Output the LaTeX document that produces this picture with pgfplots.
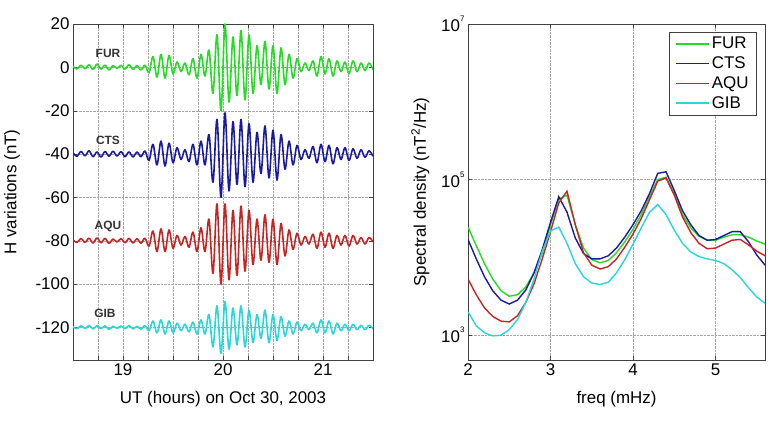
\documentclass[border=0pt]{standalone}
\usepackage{pgfplots}
\pgfplotsset{compat=1.18}
\usepackage{pgfplotstable}
\usepackage{fontspec}
\setmainfont{Liberation Sans}

\definecolor{cFUR}{RGB}{35,220,35}
\definecolor{cCTS}{RGB}{25,25,165}
\definecolor{cAQU}{RGB}{200,35,35}
\definecolor{cGIB}{RGB}{40,215,215}

% H-component deviations (nT) about each station's baseline
\pgfplotstableread{
t fur cts aqu gib
18.50 0.5 0.5 0.4 0.3
18.54 -0.8 -1.0 -0.8 -0.6
18.58 1.0 1.2 1.0 0.8
18.62 -0.6 -0.8 -0.7 -0.5
18.66 1.2 1.5 1.2 1.0
18.70 -1.0 -1.2 -1.0 -0.7
18.74 1.5 1.0 1.3 0.9
18.78 -0.8 -1.4 -0.9 -0.6
18.82 1.0 1.2 1.1 0.8
18.86 -1.2 -1.0 -1.2 -0.9
18.90 0.8 1.3 0.8 0.6
18.94 -0.5 -0.9 -0.6 -0.4
18.98 1.0 1.1 1.0 0.7
19.02 -0.8 -1.2 -0.9 -0.6
19.06 1.2 1.0 1.1 0.9
19.10 -1.0 -1.3 -1.0 -0.7
19.14 0.8 0.9 0.9 0.6
19.18 -1.2 -1.2 -1.1 -0.8
19.22 1.0 1.4 1.2 0.9
19.26 -2.5 -3.0 -2.5 -1.5
19.30 5.0 4.5 4.5 3.0
19.34 -4.5 -5.0 -5.0 -2.5
19.38 6.0 6.0 5.5 3.5
19.42 -5.0 -5.5 -5.0 -3.0
19.46 5.5 5.0 5.0 3.0
19.50 -3.0 -4.0 -3.5 -2.5
19.54 2.5 3.0 2.5 2.0
19.58 -2.0 -2.5 -2.0 -1.5
19.62 2.0 2.0 2.0 1.5
19.66 -3.5 -3.5 -3.0 -2.0
19.70 4.0 4.5 4.0 2.5
19.74 -5.0 -5.0 -5.0 -3.0
19.78 6.0 6.0 6.0 3.5
19.82 -4.0 -5.0 -5.0 -3.0
19.86 8.0 9.0 10.0 6.0
19.90 -12.0 -13.0 -15.0 -9.0
19.94 15.0 16.0 17.0 10.0
19.98 -20.0 -20.0 -20.0 -12.0
20.02 20.0 19.0 17.0 12.0
20.06 -16.0 -17.0 -18.0 -10.0
20.10 14.0 15.0 14.0 9.0
20.14 -13.0 -14.0 -16.0 -8.0
20.18 17.0 16.0 16.0 10.0
20.22 -15.0 -15.0 -14.0 -9.0
20.26 15.0 14.0 14.0 8.0
20.30 -12.0 -13.0 -11.0 -7.0
20.34 10.0 10.0 10.0 6.0
20.38 -8.0 -9.0 -9.0 -5.0
20.42 12.0 13.0 12.0 8.0
20.46 -10.0 -11.0 -10.0 -7.0
20.50 10.0 11.0 10.0 6.0
20.54 -12.0 -12.0 -11.0 -6.0
20.58 9.0 9.0 8.0 5.0
20.62 -8.0 -7.0 -7.0 -4.0
20.66 6.0 6.0 5.0 3.0
20.70 -5.0 -5.0 -4.0 -3.0
20.74 4.0 4.0 3.5 2.5
20.78 -2.0 -2.5 -2.0 -1.5
20.82 2.0 2.0 2.0 1.5
20.86 -1.5 -2.0 -1.5 -1.0
20.90 3.0 3.5 3.0 2.0
20.94 -4.0 -4.0 -3.5 -2.5
20.98 5.0 4.5 4.0 3.5
21.02 -3.0 -3.5 -3.0 -2.5
21.06 4.0 4.0 3.5 3.0
21.10 -4.0 -4.5 -3.5 -3.0
21.14 3.0 3.0 2.5 2.0
21.18 -2.0 -2.5 -2.0 -1.5
21.22 2.5 3.0 2.5 1.5
21.26 -3.0 -3.0 -2.5 -1.5
21.30 3.0 2.5 2.5 1.5
21.34 -2.0 -2.0 -1.5 -1.0
21.38 2.0 2.0 1.5 1.0
21.42 -1.5 -1.5 -1.5 -1.0
21.46 2.0 1.5 1.5 1.0
21.50 -1.0 -1.0 -0.5 -0.5
}\hvar

% power spectral density (nT^2/Hz) versus frequency (mHz)
\pgfplotstableread{
f fur cts aqu gib
2.0 24550 16980 5248 1995
2.1 14130 9550 3311 1318
2.2 8318 5623 2239 1072
2.3 5248 3715 1738 977
2.4 3715 2818 1514 1000
2.5 3162 2512 1479 1175
2.6 3311 2818 1778 1585
2.7 4169 3802 2630 2630
2.8 6310 6310 4571 5248
2.9 11220 12590 9550 12020
3.0 26300 28180 21380 21880
3.1 56230 60260 50120 24500
3.2 63100 38020 70790 15140
3.3 26300 17780 26300 8318
3.4 13180 11220 11480 5623
3.5 9333 9550 7943 4677
3.6 8511 9550 7079 4467
3.7 9120 10470 7586 4786
3.8 11480 13180 9550 6310
3.9 15850 18200 13490 9333
4.0 22910 26300 19950 14790
4.1 35480 39810 31620 23990
4.2 60260 66070 54950 38020
4.3 100000 120200 95500 47860
4.4 107200 125900 104700 35480
4.5 66070 72440 63100 22390
4.6 35480 39810 33110 15140
4.7 23990 26300 20890 11750
4.8 18620 19050 15140 10230
4.9 16600 16600 12880 9550
5.0 16600 16980 13180 9120
5.1 18200 19050 14790 8318
5.2 19500 21380 16600 6918
5.3 19500 21380 16980 5495
5.4 18200 15850 14450 4074
5.5 16220 10720 12020 3090
5.6 14790 7943 10470 2570
}\psd

\pgfplotsset{
  panel/.style={
    scale only axis,
    anchor=south west,
    height=336bp,
    font=\fontsize{17}{19}\selectfont,
    /pgf/number format/assume math mode=true,
    axis line style={black!75},
    tick style={black!75},
    major tick length=4bp,
    minor tick length=4bp,
    tick align=inside,
    grid style={densely dotted, black!35},
    xlabel style={anchor=center},
    ylabel style={anchor=center, rotate=0},
  },
  wave/.style={line width=1.6bp, line join=round, smooth, tension=0.55},
}

\begin{document}
\begin{tikzpicture}[x=1bp,y=1bp]
\useasboundingbox (0,0) rectangle (777,424);

% time series
\begin{axis}[panel,
  at={(73bp,64bp)}, width=300bp,
  xmin=18.5, xmax=21.5, ymin=-135, ymax=20,
  xtick={19,20,21},
  minor xtick={18.75,19.25,19.5,19.75,20.25,20.5,20.75,21.25},
  ytick={-120,-100,-80,-60,-40,-20,0,20},
  grid=both,
  minor grid style={densely dotted, black!35},
  xlabel={UT (hours) on Oct 30, 2003},
  ylabel={H variations (nT)},
  xlabel style={at={(axis description cs:0.5,-0.116)}},
  ylabel style={at={(axis description cs:-0.203,0.5)}},
]
\addplot[cFUR, wave] table[x=t, y=fur] {\hvar};
\addplot[cCTS, wave] table[x=t, y expr=\thisrow{cts}-40] {\hvar};
\addplot[cAQU, wave] table[x=t, y expr=\thisrow{aqu}-80] {\hvar};
\addplot[cGIB, wave] table[x=t, y expr=\thisrow{gib}-120] {\hvar};
\node[font=\fontsize{12}{12}\selectfont\bfseries, text=black!80] at (axis cs:18.85,6.5) {FUR};
\node[font=\fontsize{12}{12}\selectfont\bfseries, text=black!80] at (axis cs:18.85,-33.5) {CTS};
\node[font=\fontsize{12}{12}\selectfont\bfseries, text=black!80] at (axis cs:18.85,-73.5) {AQU};
\node[font=\fontsize{12}{12}\selectfont\bfseries, text=black!80] at (axis cs:18.82,-113.5) {GIB};
\end{axis}

% spectra
\begin{axis}[panel,
  at={(468bp,64bp)}, width=297bp,
  ymode=log,
  xmin=2, xmax=5.6, ymin=479, ymax=1e7,
  xtick={2,3,4,5},
  ytick={1e3,1e5,1e7},
  yticklabels={10\raisebox{1.1ex}{\fontsize{8}{8}\selectfont 3},
               10\raisebox{1.1ex}{\fontsize{8}{8}\selectfont 5},
               10\raisebox{1.1ex}{\fontsize{8}{8}\selectfont 7}},
  yminorticks=false,
  grid=major,
  xlabel={freq (mHz)},
  ylabel={Spectral density (nT\textsuperscript{2}/Hz)},
  xlabel style={at={(axis description cs:0.5,-0.116)}},
  ylabel style={at={(axis description cs:-0.16,0.5)}},
  legend style={at={(0.972,0.976)}, anchor=north east,
    draw=black!75, fill=white, inner xsep=6bp, inner ysep=3bp,
    row sep=2.5bp, font=\fontsize{17}{19}\selectfont},
  legend cell align=left,
  legend image code/.code={\draw[#1, line width=1.4bp] (0bp,0bp) -- (33bp,0bp);},
]
\addplot[cFUR, line width=1.4bp] table[x=f, y=fur] {\psd};
\addlegendentry{FUR}
\addplot[cCTS, line width=1.4bp] table[x=f, y=cts] {\psd};
\addlegendentry{CTS}
\addplot[cAQU, line width=1.4bp] table[x=f, y=aqu] {\psd};
\addlegendentry{AQU}
\addplot[cGIB, line width=1.4bp] table[x=f, y=gib] {\psd};
\addlegendentry{GIB}
\end{axis}
\end{tikzpicture}
\end{document}
